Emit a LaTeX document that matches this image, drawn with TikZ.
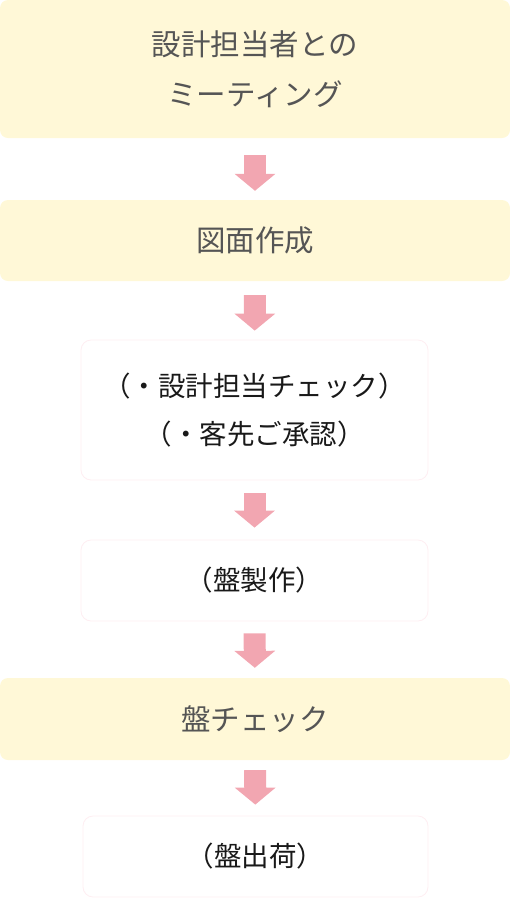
\documentclass[tikz,border=0pt]{standalone}
\usepackage{fontspec}
\newfontfamily\jpfont{Noto Sans CJK JP}
\usepackage{tikz}
\usetikzlibrary{arrows.meta, positioning}
\definecolor{stepyellow}{HTML}{FFF8D7}
\definecolor{steppink}{HTML}{F2A6B1}
\definecolor{stepline}{HTML}{FEEEF2}
\definecolor{grayink}{HTML}{555555}
\tikzset{
  yellowbox/.style={rectangle, fill=stepyellow, rounded corners=8pt, inner sep=0pt, minimum width=510pt, align=center, text=grayink, font=\jpfont\fontsize{29.5pt}{50pt}\selectfont},
  whitebox/.style={rectangle, draw=stepline, fill=white, line width=0.8pt, rounded corners=10pt, inner sep=0pt, minimum width=347pt, align=center, text=black!90, font=\jpfont\fontsize{27.5pt}{48pt}\selectfont},
  flowarrow/.style={draw=steppink, line width=22pt, -{Triangle[width=40pt, length=17pt]}},
}

\begin{document}
\begin{tikzpicture}[x=1pt, y=-1pt]
  \useasboundingbox (0,0) rectangle (510,898);

  % Steps
  \node[yellowbox, minimum height=138pt] (meeting) at (255,69) {設計担当者との\\ミーティング};
  \node[yellowbox, minimum height=81pt] (drawing) at (255,240.5) {図面作成};
  \node[whitebox, minimum height=140pt] (approval) at (254.5,410) {（・設計担当チェック）\\（・客先ご承認）};
  \node[whitebox, minimum height=81pt] (making) at (254.5,580.5) {（盤製作）};
  \node[yellowbox, minimum height=82pt] (check) at (255,719) {盤チェック};
  \node[whitebox, minimum height=81pt, minimum width=345pt] (shipping) at (255.5,856.5) {（盤出荷）};

  % Arrows
  \draw[flowarrow, shorten <=17pt, shorten >=9pt] (meeting) -- (drawing);
  \draw[flowarrow, shorten <=14pt, shorten >=9pt] (drawing) -- (approval);
  \draw[flowarrow, shorten <=13pt, shorten >=12pt] (approval) -- (making);
  \draw[flowarrow, shorten <=12pt, shorten >=10pt] (making) -- (check);
  \draw[flowarrow, shorten <=10pt, shorten >=11pt] (check) -- (shipping);
\end{tikzpicture}
\end{document}
